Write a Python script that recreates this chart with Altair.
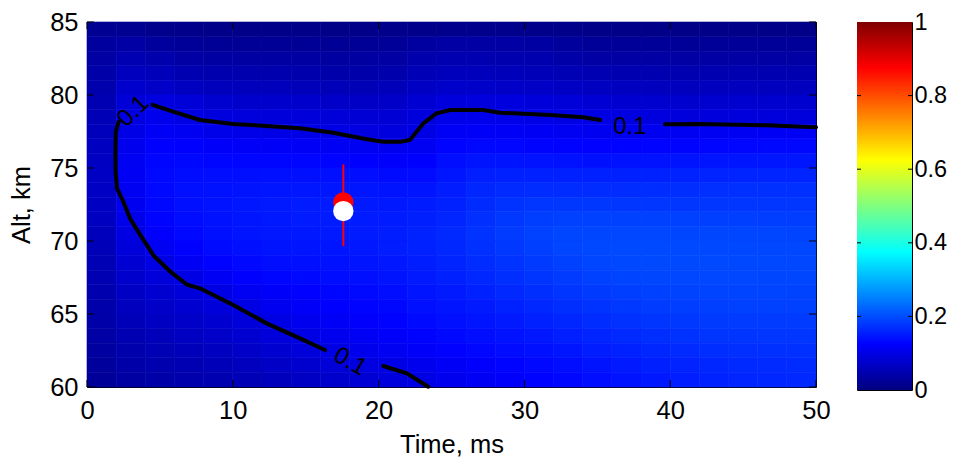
import altair as alt
import pandas as pd

# ---------------- data ----------------
time_edges = [0, 2, 4, 6, 8, 10, 12, 14, 16, 18, 20, 22, 24, 26, 28, 30, 32, 34, 36, 38, 40, 42, 44, 46, 48, 50]
alt_edges = [60, 61, 62, 63, 64, 65, 66, 67, 68, 69, 70, 71, 72, 73, 74, 75, 76, 77, 78, 79, 80, 81, 82, 83, 84, 85]

# cell values, one list per altitude band (lower edge in the name), time columns left to right
row_84 = [0.020, 0.018, 0.014, 0.012, 0.010, 0.010, 0.010, 0.010, 0.010, 0.010, 0.011, 0.012, 0.013, 0.013, 0.013, 0.012, 0.012, 0.010, 0.010, 0.010, 0.010, 0.010, 0.010, 0.010, 0.010]
row_83 = [0.030, 0.036, 0.028, 0.024, 0.022, 0.022, 0.022, 0.022, 0.022, 0.022, 0.024, 0.032, 0.036, 0.036, 0.036, 0.034, 0.028, 0.024, 0.024, 0.024, 0.024, 0.024, 0.024, 0.024, 0.024]
row_82 = [0.035, 0.050, 0.045, 0.036, 0.034, 0.034, 0.034, 0.034, 0.033, 0.033, 0.035, 0.044, 0.048, 0.048, 0.047, 0.046, 0.040, 0.036, 0.036, 0.036, 0.036, 0.036, 0.036, 0.036, 0.036]
row_81 = [0.040, 0.062, 0.058, 0.048, 0.046, 0.046, 0.046, 0.045, 0.042, 0.042, 0.044, 0.055, 0.060, 0.060, 0.058, 0.056, 0.052, 0.050, 0.049, 0.048, 0.048, 0.048, 0.048, 0.048, 0.048]
row_80 = [0.045, 0.075, 0.072, 0.064, 0.060, 0.060, 0.060, 0.058, 0.056, 0.055, 0.058, 0.068, 0.074, 0.074, 0.072, 0.070, 0.067, 0.064, 0.063, 0.062, 0.062, 0.062, 0.062, 0.062, 0.062]
row_79 = [0.050, 0.086, 0.096, 0.087, 0.078, 0.076, 0.076, 0.075, 0.072, 0.070, 0.072, 0.082, 0.092, 0.094, 0.093, 0.090, 0.087, 0.084, 0.080, 0.078, 0.078, 0.078, 0.078, 0.078, 0.078]
row_78 = [0.055, 0.095, 0.106, 0.100, 0.093, 0.091, 0.090, 0.089, 0.087, 0.084, 0.084, 0.092, 0.104, 0.106, 0.104, 0.102, 0.100, 0.098, 0.095, 0.093, 0.092, 0.092, 0.092, 0.091, 0.091]
row_77 = [0.060, 0.102, 0.116, 0.112, 0.104, 0.103, 0.102, 0.101, 0.099, 0.096, 0.094, 0.100, 0.116, 0.118, 0.116, 0.114, 0.112, 0.110, 0.110, 0.110, 0.112, 0.112, 0.113, 0.114, 0.115]
row_76 = [0.064, 0.108, 0.125, 0.125, 0.120, 0.119, 0.118, 0.117, 0.115, 0.112, 0.109, 0.112, 0.128, 0.132, 0.131, 0.129, 0.127, 0.126, 0.127, 0.128, 0.129, 0.130, 0.131, 0.132, 0.132]
row_75 = [0.066, 0.112, 0.130, 0.132, 0.130, 0.130, 0.130, 0.130, 0.128, 0.125, 0.122, 0.124, 0.138, 0.144, 0.144, 0.143, 0.142, 0.141, 0.142, 0.143, 0.144, 0.145, 0.146, 0.147, 0.147]
row_74 = [0.067, 0.114, 0.133, 0.137, 0.138, 0.139, 0.140, 0.141, 0.140, 0.138, 0.135, 0.136, 0.146, 0.154, 0.156, 0.156, 0.156, 0.156, 0.156, 0.157, 0.158, 0.159, 0.160, 0.160, 0.160]
row_73 = [0.067, 0.113, 0.133, 0.140, 0.142, 0.144, 0.146, 0.147, 0.147, 0.146, 0.144, 0.145, 0.152, 0.162, 0.166, 0.168, 0.168, 0.168, 0.168, 0.169, 0.170, 0.171, 0.172, 0.172, 0.172]
row_72 = [0.066, 0.110, 0.132, 0.140, 0.143, 0.147, 0.150, 0.151, 0.151, 0.150, 0.149, 0.151, 0.157, 0.167, 0.174, 0.178, 0.179, 0.179, 0.178, 0.178, 0.178, 0.178, 0.178, 0.178, 0.178]
row_71 = [0.064, 0.105, 0.128, 0.137, 0.142, 0.146, 0.149, 0.151, 0.151, 0.151, 0.151, 0.155, 0.161, 0.171, 0.180, 0.186, 0.188, 0.189, 0.189, 0.188, 0.188, 0.187, 0.187, 0.186, 0.186]
row_70 = [0.060, 0.098, 0.122, 0.133, 0.140, 0.145, 0.148, 0.149, 0.150, 0.151, 0.153, 0.158, 0.165, 0.175, 0.183, 0.190, 0.193, 0.194, 0.195, 0.195, 0.194, 0.194, 0.193, 0.193, 0.192]
row_69 = [0.057, 0.090, 0.112, 0.125, 0.135, 0.140, 0.144, 0.145, 0.146, 0.148, 0.152, 0.157, 0.163, 0.172, 0.180, 0.187, 0.193, 0.196, 0.197, 0.197, 0.197, 0.196, 0.196, 0.195, 0.195]
row_68 = [0.053, 0.082, 0.100, 0.115, 0.127, 0.133, 0.138, 0.140, 0.142, 0.145, 0.148, 0.153, 0.160, 0.168, 0.175, 0.182, 0.188, 0.193, 0.196, 0.197, 0.197, 0.197, 0.196, 0.196, 0.195]
row_67 = [0.050, 0.075, 0.090, 0.101, 0.115, 0.125, 0.130, 0.134, 0.137, 0.140, 0.144, 0.150, 0.156, 0.163, 0.170, 0.177, 0.183, 0.188, 0.192, 0.194, 0.195, 0.195, 0.195, 0.194, 0.194]
row_66 = [0.046, 0.068, 0.080, 0.090, 0.100, 0.112, 0.120, 0.126, 0.130, 0.134, 0.138, 0.145, 0.150, 0.157, 0.164, 0.170, 0.177, 0.182, 0.186, 0.189, 0.191, 0.192, 0.192, 0.192, 0.191]
row_65 = [0.043, 0.062, 0.072, 0.080, 0.090, 0.100, 0.110, 0.118, 0.124, 0.128, 0.132, 0.140, 0.145, 0.150, 0.157, 0.163, 0.170, 0.175, 0.180, 0.184, 0.186, 0.187, 0.188, 0.188, 0.188]
row_64 = [0.040, 0.056, 0.065, 0.072, 0.080, 0.090, 0.100, 0.108, 0.116, 0.122, 0.127, 0.134, 0.140, 0.145, 0.150, 0.156, 0.162, 0.168, 0.173, 0.177, 0.180, 0.182, 0.183, 0.183, 0.183]
row_63 = [0.036, 0.050, 0.058, 0.065, 0.072, 0.080, 0.090, 0.100, 0.108, 0.115, 0.120, 0.127, 0.133, 0.138, 0.143, 0.148, 0.154, 0.160, 0.165, 0.170, 0.174, 0.176, 0.177, 0.178, 0.178]
row_62 = [0.032, 0.045, 0.052, 0.058, 0.064, 0.071, 0.080, 0.090, 0.099, 0.107, 0.113, 0.120, 0.126, 0.131, 0.136, 0.140, 0.146, 0.152, 0.157, 0.162, 0.166, 0.169, 0.171, 0.172, 0.172]
row_61 = [0.028, 0.040, 0.046, 0.051, 0.056, 0.062, 0.069, 0.077, 0.086, 0.095, 0.102, 0.109, 0.116, 0.122, 0.128, 0.133, 0.138, 0.144, 0.150, 0.155, 0.159, 0.162, 0.165, 0.166, 0.167]
row_60 = [0.024, 0.034, 0.040, 0.045, 0.049, 0.054, 0.060, 0.067, 0.075, 0.083, 0.091, 0.099, 0.108, 0.115, 0.121, 0.127, 0.132, 0.138, 0.144, 0.149, 0.154, 0.158, 0.161, 0.163, 0.164]

rows_top_down = [row_84, row_83, row_82, row_81, row_80, row_79, row_78, row_77, row_76, row_75,
                 row_74, row_73, row_72, row_71, row_70, row_69, row_68, row_67, row_66, row_65,
                 row_64, row_63, row_62, row_61, row_60]

# 0.1 contour (segments broken where labels sit)
contour_left_t = [2.17, 1.98, 1.95, 1.97, 2.06, 2.5, 2.97, 3.66, 4.57, 5.72, 6.86, 7.75, 10.03, 12.32, 14.61, 16.32]
contour_left_a = [78.15, 77.5, 76.0, 74.7, 73.6, 72.67, 71.5, 70.4, 69.0, 67.9, 67.0, 66.76, 65.62, 64.36, 63.33, 62.53]
contour_low_t = [20.32, 21.93, 23.41]
contour_low_a = [61.44, 60.94, 60.02]
contour_top_t = [4.5, 5.9, 7.75, 10.0, 12.3, 14.6, 16.9, 19.2, 20.3, 21.5, 22.15, 23.07, 23.98, 24.9, 27.18, 28.33, 31.76, 34.04, 35.19]
contour_top_a = [79.32, 78.86, 78.29, 78.01, 77.88, 77.72, 77.42, 76.97, 76.8, 76.8, 76.92, 78.06, 78.75, 78.97, 78.97, 78.79, 78.63, 78.47, 78.29]
contour_right_t = [39.64, 42.04, 46.62, 50.0]
contour_right_a = [78.0, 78.01, 77.92, 77.79]

label_t = [3.16, 18.04, 37.24]
label_a = [78.88, 61.73, 77.83]
label_angle = [315, 30, 0]
label_text = ["0.1", "0.1", "0.1"]

# observation markers
obs_t = [17.58]
obs_red_a = [72.64]
obs_white_a = [72.05]
obs_lo = [69.66]
obs_hi = [75.25]

x_ticks = [0, 10, 20, 30, 40, 50]
y_ticks = [60, 65, 70, 75, 80, 85]
cb_ticks = [0, 0.2, 0.4, 0.6, 0.8, 1]
cb_inner_ticks = [0.2, 0.4, 0.6, 0.8]

jet_domain = [0, 0.125, 0.375, 0.625, 0.875, 1]
jet_colors = ["#00007f", "#0000ff", "#00ffff", "#ffff00", "#ff0000", "#7f0000"]

# ---------------- tables ----------------
cells = []
n_rows = len(rows_top_down)
for k, row in enumerate(rows_top_down):
    a0 = alt_edges[n_rows - 1 - k]
    a1 = alt_edges[n_rows - k]
    for j, v in enumerate(row):
        cells.append({"t0": time_edges[j], "t1": time_edges[j + 1], "a0": a0, "a1": a1, "v": v})
cells_df = pd.DataFrame(cells)

contour_rows = []
for seg, (ts, as_) in enumerate([(contour_left_t, contour_left_a), (contour_low_t, contour_low_a),
                                 (contour_top_t, contour_top_a), (contour_right_t, contour_right_a)]):
    for i, (t, a) in enumerate(zip(ts, as_)):
        contour_rows.append({"seg": seg, "i": i, "t": t, "a": a})
contour_df = pd.DataFrame(contour_rows)

labels_df = pd.DataFrame({"t": label_t, "a": label_a, "ang": label_angle, "txt": label_text})
obs_df = pd.DataFrame({"t": obs_t, "red": obs_red_a, "white": obs_white_a, "lo": obs_lo, "hi": obs_hi})
xt_df = pd.DataFrame({"t": x_ticks})
yt_df = pd.DataFrame({"a": y_ticks})

FONT = "Liberation Sans"
FS = 25.5
W, H = 729, 365
TL = 7

xscale = alt.Scale(domain=[0, 50], nice=False, zero=False)
yscale = alt.Scale(domain=[60, 85], nice=False, zero=False)
xaxis = alt.Axis(values=x_ticks, format="d", labelPadding=11, titlePadding=9, labelFlush=False,
                 labelOverlap=False, ticks=False, tickSize=0, domain=False, grid=False)
yaxis = alt.Axis(values=y_ticks, format="d", labelPadding=9, titlePadding=15, labelFlush=False,
                 labelOverlap=False, ticks=False, tickSize=0, domain=False, grid=False)


def X(field):
    return alt.X(field, scale=xscale, axis=xaxis, title="Time, ms")


def Y(field):
    return alt.Y(field, scale=yscale, axis=yaxis, title="Alt, km")


jet = alt.Scale(domain=jet_domain, range=jet_colors, interpolate="rgb")

heat = alt.Chart(cells_df).mark_rect(strokeWidth=0.6).encode(
    x=X("t0:Q"), x2="t1:Q", y=Y("a0:Q"), y2="a1:Q",
    color=alt.Color("v:Q", scale=jet, legend=None),
    stroke=alt.Stroke("v:Q", scale=jet, legend=None),
)

contour = alt.Chart(contour_df).mark_line(color="black", strokeWidth=4, strokeCap="round").encode(
    x=X("t:Q"), y=Y("a:Q"), detail="seg:N", order="i:Q"
)

clabels = alt.Chart(labels_df).mark_text(font=FONT, fontSize=24, color="black").encode(
    x=X("t:Q"), y=Y("a:Q"), text="txt:N", angle=alt.Angle("ang:Q", scale=None)
)

errbar = alt.Chart(obs_df).mark_rule(color="#ff0000", strokeWidth=2).encode(
    x=X("t:Q"), y=Y("lo:Q"), y2="hi:Q"
)
red_dot = alt.Chart(obs_df).mark_circle(color="#ff0000", size=415, opacity=1).encode(x=X("t:Q"), y=Y("red:Q"))
white_dot = alt.Chart(obs_df).mark_circle(color="#ffffff", size=415, opacity=1).encode(x=X("t:Q"), y=Y("white:Q"))

tick_top = alt.Chart(xt_df).mark_rule(color="black", strokeWidth=1).encode(
    x=X("t:Q"), y=alt.value(0), y2=alt.value(TL))
tick_bottom = alt.Chart(xt_df).mark_rule(color="black", strokeWidth=1).encode(
    x=X("t:Q"), y=alt.value(H - TL), y2=alt.value(H))
tick_left = alt.Chart(yt_df).mark_rule(color="black", strokeWidth=1).encode(
    y=Y("a:Q"), x=alt.value(0), x2=alt.value(TL))
tick_right = alt.Chart(yt_df).mark_rule(color="black", strokeWidth=1).encode(
    y=Y("a:Q"), x=alt.value(W - TL), x2=alt.value(W))

main = alt.layer(heat, contour, clabels, errbar, red_dot, white_dot,
                 tick_top, tick_bottom, tick_left, tick_right).properties(width=W, height=H)

# ---------------- colorbar ----------------
CBW, CBH = 55, 368
cb_scale = alt.Scale(domain=[0, 1], nice=False, zero=False)
cb_axis = alt.Axis(orient="right", values=cb_ticks, format="~g", labelPadding=2, labelFontSize=23.5,
                   ticks=False, tickSize=0, domain=False, grid=False, labelFlush=False, labelOverlap=False)
gradient = alt.LinearGradient(
    gradient="linear",
    stops=[alt.GradientStop(color=c, offset=o) for c, o in zip(jet_colors, jet_domain)],
    x1=0, x2=0, y1=1, y2=0,
)
cb_range_df = pd.DataFrame({"lo": [cb_ticks[0]], "hi": [cb_ticks[-1]]})
cb_ticks_df = pd.DataFrame({"v": cb_inner_ticks})
cb_rect = alt.Chart(cb_range_df).mark_rect(color=gradient).encode(
    y=alt.Y("lo:Q", scale=cb_scale, axis=cb_axis, title=None), y2="hi:Q",
    x=alt.value(0), x2=alt.value(CBW))
cb_tl = alt.Chart(cb_ticks_df).mark_rule(color="black").encode(
    y=alt.Y("v:Q", scale=cb_scale, axis=cb_axis, title=None), x=alt.value(0), x2=alt.value(4))
cb_tr = alt.Chart(cb_ticks_df).mark_rule(color="black").encode(
    y=alt.Y("v:Q", scale=cb_scale, axis=cb_axis, title=None), x=alt.value(CBW - 4), x2=alt.value(CBW))
cbar = alt.layer(cb_rect, cb_tl, cb_tr).properties(width=CBW, height=CBH)

chart = alt.hconcat(main, cbar, spacing=41, bounds="flush").properties(
    padding={"left": 1, "top": 1, "right": -1, "bottom": 0}
).configure(font=FONT).configure_view(stroke="#000000", strokeWidth=1).configure_axis(
    labelFont=FONT, labelFontSize=FS, labelColor="#000000",
    titleFont=FONT, titleFontSize=FS, titleFontWeight="normal", titleColor="#000000",
)

chart.save("out.html", embed_options={"renderer": "svg", "actions": False})
